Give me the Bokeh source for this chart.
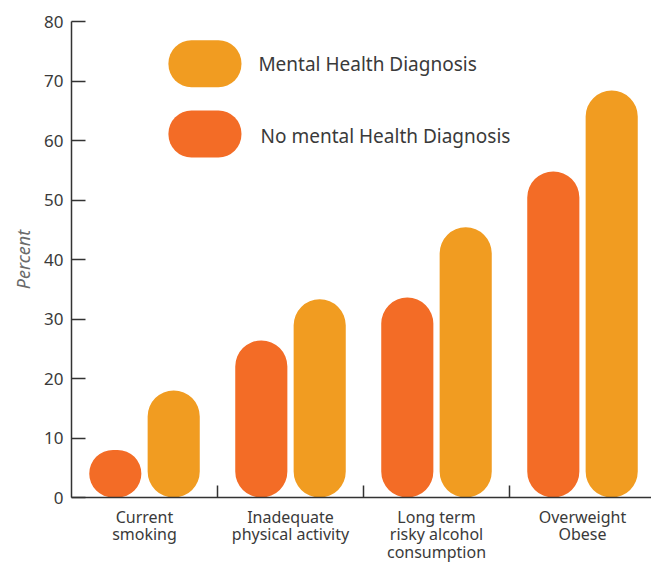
from bokeh.plotting import figure
from bokeh.models import Range1d, FixedTicker, ColumnDataSource
from bokeh.embed import file_html
from bokeh.resources import INLINE
from bokeh.core.properties import value

categories = ["Current\nsmoking", "Inadequate\nphysical activity",
              "Long term\nrisky alcohol\nconsumption", "Overweight\nObese"]
no_mental = [8.0, 26.4, 33.6, 54.8]
mental = [18.0, 33.3, 45.4, 68.4]
series_names = ["Mental Health Diagnosis", "No mental Health Diagnosis"]
y_ticks = [0, 10, 20, 30, 40, 50, 60, 70, 80]

ORANGE = "#F36C26"
YELLOW = "#F19C21"
FONT = "Noto Sans"
TXT = "#3a3a3a"

p = figure(width=651, height=566, output_backend="svg", toolbar_location=None,
           x_range=Range1d(0, 580 / 146), y_range=Range1d(0, 80),
           min_border_left=71, min_border_right=0, min_border_top=21, min_border_bottom=69)
p.outline_line_color = None
p.xgrid.visible = False
p.ygrid.visible = False
p.background_fill_color = "white"
p.border_fill_color = "white"

centers = [i + 0.5 for i in range(len(categories))]
src = ColumnDataSource(dict(
    x_no=[c - 0.2 for c in centers], x_m=[c + 0.2 for c in centers],
    no=no_mental, m=mental))
p.vbar(x="x_no", top="no", bottom=0, width=0.357, source=src,
       fill_color=ORANGE, line_color=None, border_radius=26)
p.vbar(x="x_m", top="m", bottom=0, width=0.357, source=src,
       fill_color=YELLOW, line_color=None, border_radius=26)

# legend pills
leg = ColumnDataSource(dict(x=[0.914, 0.914], y=[72.9, 61.1], c=[YELLOW, ORANGE],
                            tx=[1.28, 1.295], ty=[72.8, 60.8], t=series_names))
p.rect(x="x", y="y", width=73, height=47, width_units="screen", height_units="screen",
       fill_color="c", line_color=None, border_radius=23, source=leg)
p.text(x="tx", y="ty", text="t", source=leg, text_font=value(FONT), text_font_size="19px",
       text_color=TXT, text_baseline="middle", text_align="left")

# y axis
ya = p.yaxis[0]
ya.ticker = FixedTicker(ticks=y_ticks)
ya.major_tick_in = 14
ya.major_tick_out = 0
ya.minor_tick_line_color = None
ya.axis_line_color = "#333333"
ya.axis_line_width = 1.5
ya.major_tick_line_color = "#333333"
ya.major_tick_line_width = 1.5
ya.major_label_text_font = FONT
ya.major_label_text_font_size = "17px"
ya.major_label_text_color = TXT
ya.major_label_standoff = 8
ya.axis_label = "Percent"
ya.axis_label_text_font = FONT
ya.axis_label_text_font_style = "italic"
ya.axis_label_text_font_size = "18px"
ya.axis_label_text_color = "#6a6a6a"
ya.axis_label_standoff = 6

# x axis
xa = p.xaxis[0]
xa.ticker = FixedTicker(ticks=centers, minor_ticks=[1, 2, 3])
xa.major_label_overrides = {c: lab for c, lab in zip(centers, categories)}
xa.major_tick_line_color = None
xa.minor_tick_in = 12
xa.minor_tick_out = 0
xa.minor_tick_line_color = "#333333"
xa.minor_tick_line_width = 1.5
xa.axis_line_color = "#333333"
xa.axis_line_width = 1.5
xa.major_label_text_font = FONT
xa.major_label_text_font_size = "16px"
xa.major_label_text_line_height = 0.8
xa.major_label_text_color = TXT
xa.major_label_standoff = 2

open("out.html", "w").write(file_html(p, INLINE))
